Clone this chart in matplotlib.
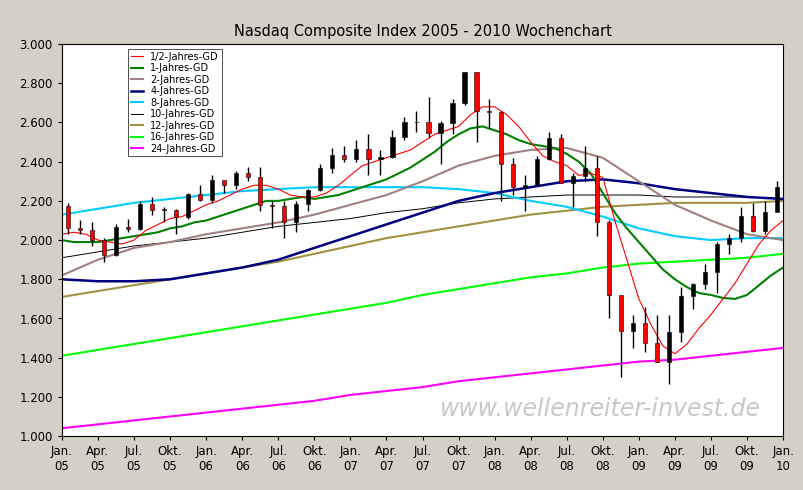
import matplotlib
matplotlib.use("Agg")
import matplotlib.pyplot as plt
import numpy as np

# Monatsdaten Nasdaq Composite, Jan 2005 - Dez 2009
closes = [2062, 2052, 1999, 1922, 2068, 2057, 2185, 2152, 2152, 2120, 2233, 2205,
          2306, 2281, 2340, 2323, 2179, 2172, 2091, 2184, 2258, 2367, 2432, 2415,
          2464, 2416, 2422, 2525, 2605, 2603, 2546, 2596, 2702, 2859, 2661, 2652,
          2390, 2271, 2279, 2413, 2523, 2293, 2326, 2368, 2092, 1721, 1536, 1577,
          1476, 1378, 1529, 1717, 1774, 1835, 1979, 2009, 2122, 2045, 2145, 2269]
highs = [2191, 2100, 2090, 2010, 2080, 2110, 2200, 2220, 2170, 2160, 2240, 2280,
         2330, 2300, 2350, 2375, 2375, 2200, 2200, 2200, 2260, 2390, 2470, 2480,
         2510, 2540, 2460, 2560, 2630, 2660, 2730, 2610, 2720, 2860, 2790, 2720,
         2660, 2420, 2330, 2430, 2550, 2540, 2340, 2480, 2430, 2100, 1700, 1620,
         1660, 1620, 1620, 1760, 1780, 1880, 1990, 2030, 2170, 2190, 2200, 2300]
lows = [2030, 2030, 1970, 1890, 1920, 2040, 2050, 2130, 2090, 2030, 2110, 2200,
        2190, 2240, 2260, 2300, 2150, 2060, 2010, 2040, 2150, 2250, 2340, 2400,
        2400, 2330, 2330, 2420, 2510, 2550, 2520, 2390, 2540, 2690, 2500, 2570,
        2200, 2230, 2150, 2280, 2410, 2290, 2170, 2300, 2020, 1600, 1300, 1450,
        1430, 1380, 1265, 1480, 1650, 1750, 1730, 1930, 1990, 2040, 2030, 2160]
first_open = 2175

# Gleitende Durchschnitte, monatlich (Jan 05 - Jan 10)
gd_half = [2030, 2040, 2030, 2000, 1990, 1980, 2000, 2050, 2080, 2110, 2120, 2150,
           2180, 2200, 2230, 2260, 2280, 2280, 2260, 2230, 2220, 2220, 2240, 2280,
           2330, 2380, 2400, 2420, 2440, 2460, 2500, 2540, 2560, 2580, 2640, 2680,
           2680, 2640, 2580, 2500, 2430, 2400, 2380, 2330, 2340, 2320, 2100, 1900,
           1700, 1570, 1460, 1420, 1470, 1550, 1620, 1700, 1780, 1880, 1980, 2050, 2100]
gd_1 = [2000, 1990, 1990, 1990, 2000, 2010, 2020, 2030, 2040, 2060, 2070, 2090,
        2100, 2120, 2140, 2160, 2180, 2200, 2200, 2210, 2220, 2210, 2220, 2230,
        2250, 2270, 2290, 2310, 2340, 2370, 2410, 2450, 2500, 2540, 2570, 2580,
        2560, 2540, 2510, 2490, 2480, 2470, 2440, 2400, 2340, 2240, 2140, 2060,
        1990, 1920, 1850, 1800, 1760, 1730, 1720, 1705, 1700, 1720, 1770, 1820, 1860]

# Langfristige Durchschnitte, quartalsweise (Jan 05 - Jan 10)
gd_2 = [1820, 1900, 1960, 1990, 2030, 2060, 2090, 2130, 2180, 2230, 2300, 2380,
        2430, 2460, 2470, 2420, 2300, 2180, 2100, 2030, 2000]
gd_4 = [1800, 1790, 1790, 1800, 1830, 1860, 1900, 1960, 2020, 2080, 2140, 2200,
        2240, 2270, 2300, 2310, 2290, 2260, 2240, 2220, 2210]
gd_8 = [2130, 2160, 2190, 2210, 2230, 2250, 2260, 2270, 2270, 2270, 2270, 2260,
        2240, 2200, 2170, 2120, 2060, 2020, 2000, 2010, 2010]
gd_10 = [1910, 1940, 1970, 1990, 2010, 2040, 2070, 2090, 2110, 2140, 2160, 2190,
         2210, 2220, 2230, 2230, 2230, 2220, 2220, 2220, 2210]
gd_12 = [1710, 1740, 1770, 1800, 1830, 1860, 1890, 1930, 1970, 2010, 2040, 2070,
         2100, 2130, 2150, 2170, 2180, 2190, 2190, 2190, 2200]
gd_16 = [1410, 1440, 1470, 1500, 1530, 1560, 1590, 1620, 1650, 1680, 1720, 1750,
         1780, 1810, 1830, 1860, 1880, 1890, 1900, 1910, 1930]
gd_24 = [1040, 1060, 1080, 1100, 1120, 1140, 1160, 1180, 1210, 1230, 1250, 1280,
         1300, 1320, 1340, 1360, 1380, 1390, 1410, 1430, 1450]

tick_labels = ["Jan.\n05", "Apr.\n05", "Jul.\n05", "Okt.\n05",
               "Jan.\n06", "Apr.\n06", "Jul.\n06", "Okt.\n06",
               "Jan.\n07", "Apr.\n07", "Jul.\n07", "Okt.\n07",
               "Jan.\n08", "Apr.\n08", "Jul.\n08", "Okt.\n08",
               "Jan.\n09", "Apr.\n09", "Jul.\n09", "Okt.\n09", "Jan.\n10"]

fig = plt.figure(figsize=(8.04, 4.9), dpi=100, facecolor="#d4d0c8")
ax = fig.add_axes([0.077, 0.11, 0.897, 0.80])
ax.set_facecolor("white")

xm = np.arange(len(gd_1))
xq = np.arange(len(gd_2)) * 3

ax.plot(xq, gd_24, color="#ff00ff", lw=1.5, label="24-Jahres-GD", zorder=2)
ax.plot(xq, gd_16, color="#00ff00", lw=1.5, label="16-Jahres-GD", zorder=2)
ax.plot(xq, gd_12, color="#a09040", lw=1.5, label="12-Jahres-GD", zorder=2)
ax.plot(xq, gd_10, color="black", lw=0.7, label="10-Jahres-GD", zorder=2)
ax.plot(xq, gd_8, color="#00ccff", lw=1.5, label="8-Jahres-GD", zorder=2)
ax.plot(xq, gd_4, color="#000080", lw=1.8, label="4-Jahres-GD", zorder=2)
ax.plot(xq, gd_2, color="#a08080", lw=1.5, label="2-Jahres-GD", zorder=2)
ax.plot(xm, gd_1, color="#008000", lw=1.5, label="1-Jahres-GD", zorder=2)
ax.plot(xm, gd_half, color="red", lw=0.8, label="1/2-Jahres-GD", zorder=2)

# Kerzen
opens = [first_open] + closes[:-1]
xc = np.arange(len(closes)) + 0.5
ax.vlines(xc, lows, highs, color="black", lw=1, zorder=3)
for x, o, c in zip(xc, opens, closes):
    col = "black" if c >= o else "red"
    ax.bar(x, abs(c - o) or 5, bottom=min(o, c), width=0.35, color=col,
           edgecolor="black", lw=0.4, zorder=4)

ax.set_xlim(0, 60)
ax.set_ylim(1000, 3000)
ax.set_xticks(xq)
ax.set_xticklabels(tick_labels, fontsize=8.5)
yt = np.arange(1000, 3001, 200)
ax.set_yticks(yt)
ax.set_yticklabels([f"{v:,}".replace(",", ".") for v in yt], fontsize=8.5)
ax.tick_params(length=3)
ax.set_title("Nasdaq Composite Index 2005 - 2010 Wochenchart", fontsize=10.5, pad=6)

h, l = ax.get_legend_handles_labels()
leg = ax.legend(h[::-1], l[::-1], loc="upper left", bbox_to_anchor=(0.085, 1.0),
                fontsize=7, frameon=True, fancybox=False, edgecolor="black",
                handlelength=1.2, labelspacing=0.15, borderpad=0.3)
leg.get_frame().set_linewidth(0.6)

ax.text(0.97, 0.07, "www.wellenreiter-invest.de", transform=ax.transAxes,
        ha="right", va="center", fontsize=17, style="italic", color="#c8c8c8",
        zorder=1)

fig.savefig("out.png", dpi=100, facecolor=fig.get_facecolor())
